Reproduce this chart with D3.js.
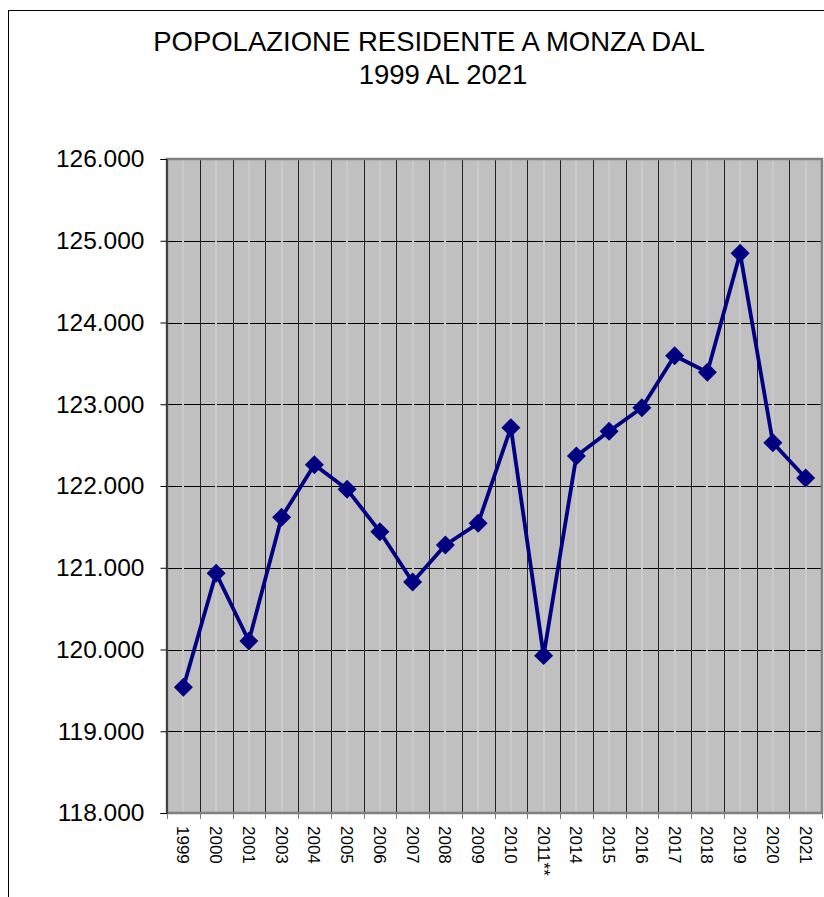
<!DOCTYPE html>
<html>
<head>
<meta charset="utf-8">
<title>Popolazione residente a Monza</title>
<script src="https://cdn.jsdelivr.net/npm/d3@7"></script>
<style>
  body { margin: 0; background: #fff; }
  svg { display: block; font-family: "Liberation Sans", Arial, sans-serif; }
</style>
</head>
<body>
<div id="chart"></div>
<script>
// data
const years = ["1999","2000","2001","2003","2004","2005","2006","2007","2008","2009",
               "2010","2011**","2014","2015","2016","2017","2018","2019","2020","2021"];
const population = [119538,120932,120104,121617,122261,121959,121441,120826,121278,121543,
                    122714,119925,122367,122669,122958,123594,123391,124846,122530,122098];
const yTicks = [118000,119000,120000,121000,122000,123000,124000,125000,126000];
const titleLines = ["POPOLAZIONE RESIDENTE A MONZA DAL", "1999 AL 2021"];

const W = 824, H = 897;
const m = {left: 167, right: 2, top: 159, bottom: 84};

const it = d3.formatLocale({decimal: ",", thousands: ".", grouping: [3], currency: ["€", ""]});
const fmt = it.format(",.0f");

const svg = d3.select("#chart").append("svg")
    .attr("width", W)
    .attr("height", H);

// outer frame (cut off at right/bottom like the source)
svg.append("rect")
    .attr("x", 8.5).attr("y", 10.5)
    .attr("width", W + 20).attr("height", H + 20)
    .attr("fill", "none")
    .attr("stroke", "#000")
    .attr("stroke-width", 1);

// title
svg.append("text")
    .attr("x", 429).attr("y", 51)
    .attr("text-anchor", "middle")
    .attr("font-size", 27.5)
    .text(titleLines[0]);
svg.append("text")
    .attr("x", 443).attr("y", 84)
    .attr("text-anchor", "middle")
    .attr("font-size", 27.5)
    .text(titleLines[1]);

let x = d3.scaleBand()
    .domain(years)
    .range([m.left, W - m.right])
    .padding(0);

let y = d3.scaleLinear()
    .domain([118000, 126000])
    .range([H - m.bottom, m.top]);

// plot background
svg.append("rect")
    .attr("x", m.left).attr("y", m.top)
    .attr("width", x.range()[1] - m.left)
    .attr("height", y(118000) - m.top)
    .attr("fill", "#c0c0c0");

// horizontal grid
svg.append("g")
    .selectAll("line")
    .data(yTicks)
    .enter()
    .append("line")
    .attr("x1", m.left).attr("x2", x.range()[1])
    .attr("y1", d => Math.round(y(d)) + 0.5)
    .attr("y2", d => Math.round(y(d)) + 0.5)
    .attr("stroke", "#000")
    .attr("stroke-width", 1);

// faint lines at category centres
svg.append("g")
    .selectAll("line")
    .data(years)
    .enter()
    .append("line")
    .attr("x1", d => Math.round(x(d) + x.bandwidth() / 2))
    .attr("x2", d => Math.round(x(d) + x.bandwidth() / 2))
    .attr("y1", m.top).attr("y2", y(118000))
    .attr("stroke", "#cacaca")
    .attr("stroke-width", 2);

// vertical grid at category boundaries
svg.append("g")
    .selectAll("line")
    .data(years.slice(1))
    .enter()
    .append("line")
    .attr("x1", d => Math.round(x(d)) + 0.5)
    .attr("x2", d => Math.round(x(d)) + 0.5)
    .attr("y1", m.top).attr("y2", y(118000))
    .attr("stroke", "#222")
    .attr("stroke-width", 1);

// plot frame
svg.append("rect")
    .attr("x", m.left).attr("y", m.top)
    .attr("width", x.range()[1] - m.left)
    .attr("height", y(118000) - m.top)
    .attr("fill", "none")
    .attr("stroke", "#808080")
    .attr("stroke-width", 2.5);

// x ticks at boundaries
svg.append("g")
    .selectAll("line")
    .data(years.concat(["end"]))
    .enter()
    .append("line")
    .attr("x1", (d, i) => Math.round(i < years.length ? x(d) : x.range()[1]) + 0.5)
    .attr("x2", (d, i) => Math.round(i < years.length ? x(d) : x.range()[1]) + 0.5)
    .attr("y1", y(118000)).attr("y2", y(118000) + 6)
    .attr("stroke", "#808080")
    .attr("stroke-width", 1);

// x labels
let xAxis = d3.axisBottom(x).tickSize(0);
let gx = svg.append("g")
    .attr("transform", "translate(0," + y(118000) + ")")
    .call(xAxis);
gx.select(".domain").remove();
gx.selectAll("text")
    .attr("transform", "rotate(90)")
    .attr("x", 13)
    .attr("y", 0)
    .attr("dy", "0.36em")
    .attr("text-anchor", "start")
    .attr("font-size", 17)
    .attr("font-family", "Liberation Sans, Arial, sans-serif")
    .attr("fill", "#000");

// y axis
let yAxis = d3.axisLeft(y).tickValues(yTicks).tickFormat(fmt).tickSize(6).tickPadding(16);
let gy = svg.append("g")
    .attr("transform", "translate(" + (m.left - 0.5) + ",0)")
    .call(yAxis);
gy.select(".domain").attr("stroke", "#000");
gy.selectAll(".tick line").attr("stroke", "#000");
gy.selectAll("text")
    .attr("font-size", 24.5)
    .attr("font-family", "Liberation Sans, Arial, sans-serif")
    .attr("fill", "#000");

// series line
let pts = years.map((d, i) => ({year: d, value: population[i]}));
let line = d3.line()
    .x(d => x(d.year) + x.bandwidth() / 2)
    .y(d => y(d.value));

svg.append("path")
    .datum(pts)
    .attr("d", line)
    .attr("fill", "none")
    .attr("stroke", "#000080")
    .attr("stroke-width", 3.8)
    .attr("stroke-linejoin", "round");

// diamond markers
svg.selectAll(".marker")
    .data(pts)
    .enter()
    .append("path")
    .attr("class", "marker")
    .attr("d", d3.symbol(d3.symbolSquare, 180))
    .attr("transform", d => "translate(" + (x(d.year) + x.bandwidth() / 2) + "," + y(d.value) + ") rotate(45)")
    .attr("fill", "#000080");
</script>
</body>
</html>
